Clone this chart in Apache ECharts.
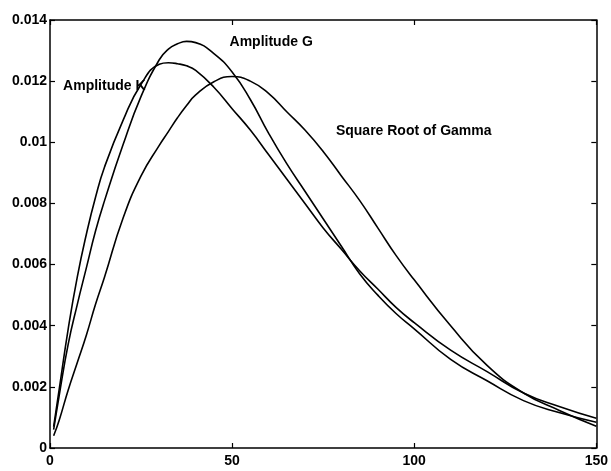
<!DOCTYPE html>
<html>
<head>
<meta charset="utf-8">
<script src="https://cdn.jsdelivr.net/npm/echarts@6/dist/echarts.min.js"></script>
<style>
  html, body { margin: 0; padding: 0; background: #fff; }
  #chart { width: 611px; height: 471px; }
</style>
</head>
<body>
<div id="chart"></div>
<script>
var xs = [1, 2.5, 5, 7.5, 10, 12.5, 15, 20, 25, 30, 32.5, 35, 37.5, 40, 45, 50, 55, 60, 65, 70,
    75, 80, 85, 90, 95, 100, 110, 120, 130, 140, 150];

var ampK = [0.0007, 0.0019, 0.0039, 0.0056, 0.0070, 0.0082, 0.0092, 0.0107, 0.0119, 0.01255, 0.0126,
    0.01257, 0.0125, 0.01235, 0.0118, 0.0111, 0.0104, 0.0096, 0.0088, 0.0080, 0.0072, 0.0065, 0.0058,
    0.0052, 0.0046, 0.0041, 0.0032, 0.0025, 0.0018, 0.00135, 0.00097];

var ampG = [0.0006, 0.0017, 0.0034, 0.0047, 0.0059, 0.0071, 0.0081, 0.0099, 0.0115, 0.0127, 0.01305,
    0.01322, 0.0133, 0.01326, 0.0129, 0.0123, 0.0114, 0.0103, 0.0093, 0.0084, 0.0075, 0.0066, 0.0057,
    0.0050, 0.0044, 0.0039, 0.0029, 0.0022, 0.00155, 0.00115, 0.00084];

var sqrtGamma = [0.0004, 0.0009, 0.0019, 0.0028, 0.0037, 0.0047, 0.0056, 0.0075, 0.0089, 0.0099, 0.01035,
    0.0108, 0.0112, 0.01155, 0.01198, 0.01215, 0.0120, 0.0116, 0.0110, 0.0104, 0.0097, 0.0089, 0.0081,
    0.0072, 0.0063, 0.0055, 0.0040, 0.0027, 0.0018, 0.00122, 0.00071];

var names = ['Amplitude K', 'Amplitude G', 'Square Root of Gamma'];
// where each name is written, in data units (left edge, middle)
var labelAt = [[3.6, 0.01185], [49.3, 0.01328], [78.5, 0.01038]];

function pairs(ys) {
    return xs.map(function (x, i) { return [x, ys[i]]; });
}

var chart = echarts.init(document.getElementById('chart'));

var font = 'Liberation Sans, Arial, Helvetica, sans-serif';
var axisLine = { show: true, onZero: false, lineStyle: { color: '#000', width: 1.5 } };
var tick = { show: true, inside: true, length: 5, lineStyle: { color: '#000', width: 1.2 } };

function makeSeries(name, ys, idx) {
    return {
        name: name,
        type: 'line',
        data: pairs(ys),
        smooth: true,
        showSymbol: false,
        lineStyle: { color: '#000', width: 1.6 },
        markPoint: {
            symbol: 'circle',
            symbolSize: 0,
            label: {
                show: true,
                position: 'right',
                distance: 0,
                formatter: name,
                color: '#000',
                fontSize: 14,
                fontWeight: 'bold',
                fontFamily: font
            },
            data: [{ coord: labelAt[idx] }]
        }
    };
}

var option = {
    animation: false,
    backgroundColor: '#fff',
    grid: { left: 50, right: 13, top: 20, bottom: 23 },
    xAxis: [
        {
            type: 'value', min: 0, max: 150, interval: 50, position: 'bottom',
            axisLine: axisLine, axisTick: tick, splitLine: { show: false },
            axisLabel: { color: '#000', fontSize: 14, fontWeight: 'bold', fontFamily: font, margin: 6 }
        },
        {
            type: 'value', min: 0, max: 150, interval: 50, position: 'top',
            axisLine: axisLine, axisTick: tick, splitLine: { show: false },
            axisLabel: { show: false }
        }
    ],
    yAxis: [
        {
            type: 'value', min: 0, max: 0.014, interval: 0.002, position: 'left',
            axisLine: axisLine, axisTick: tick, splitLine: { show: false },
            axisLabel: { color: '#000', fontSize: 14, fontWeight: 'bold', fontFamily: font, margin: 3 }
        },
        {
            type: 'value', min: 0, max: 0.014, interval: 0.002, position: 'right',
            axisLine: axisLine, axisTick: tick, splitLine: { show: false },
            axisLabel: { show: false }
        }
    ],
    series: [
        makeSeries(names[0], ampK, 0),
        makeSeries(names[1], ampG, 1),
        makeSeries(names[2], sqrtGamma, 2)
    ]
};

chart.setOption(option);
</script>
</body>
</html>
